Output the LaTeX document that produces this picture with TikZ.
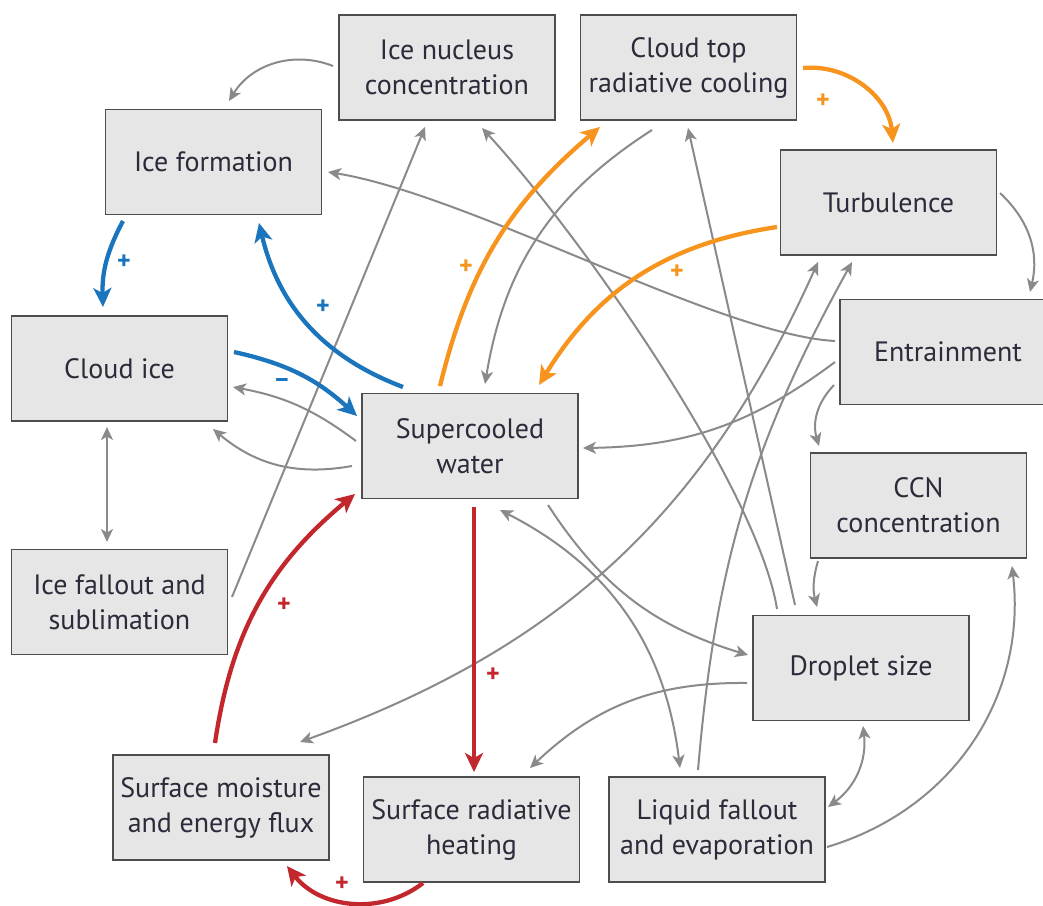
\documentclass[tikz,border=0pt]{standalone}
\usepackage{fontspec}
\setmainfont{PT Sans}
\usetikzlibrary{arrows.meta,calc}
\definecolor{boxfill}{HTML}{E6E6E6}
\definecolor{boxline}{HTML}{4D4D4D}
\definecolor{txt}{HTML}{2B2B3A}
\definecolor{agray}{HTML}{8A8A8C}
\definecolor{cblue}{HTML}{1B75BC}
\definecolor{corange}{HTML}{F7941D}
\definecolor{cred}{HTML}{C1272D}
\begin{document}
\begin{tikzpicture}[x=1pt,y=-1pt,
 box/.style={draw=boxline, line width=1.5pt, fill=boxfill, minimum width=216pt, minimum height=105pt, inner sep=0pt, align=center, text=txt, font=\fontsize{28}{35}\selectfont},
 garr/.style={draw=agray, line width=2pt, -{Stealth[length=13pt,width=12pt,inset=3.5pt]}},
 gboth/.style={draw=agray, line width=2pt, {Stealth[length=13pt,width=12pt,inset=3.5pt]}-{Stealth[length=13pt,width=12pt,inset=3.5pt]}},
 carr/.style={line width=4.3pt, -{Stealth[length=19pt,width=18pt,inset=5pt]}},
 sign/.style={font=\fontsize{26}{26}\selectfont\bfseries, inner sep=0pt},
]
\path[fill=white] (0,0) rectangle (1043,905);
\useasboundingbox (0,0) rectangle (1043,905);

% boxes
\node[box] (icen) at (447,67.5) {Ice nucleus\\concentration};
\node[box] (ctrc) at (688.5,67.5) {Cloud top\\radiative cooling};
\node[box] (icef) at (213.5,162) {Ice formation};
\node[box] (turb) at (888.5,202.5) {Turbulence};
\node[box] (entr) at (948,352) {Entrainment};
\node[box] (cice) at (119.5,368.5) {Cloud ice};
\node[box] (scw) at (470,446) {Supercooled\\water};
\node[box] (ccn) at (918.5,505.5) {CCN\\concentration};
\node[box] (drop) at (861,668) {Droplet size};
\node[box] (ifal) at (119.5,602) {Ice fallout and\\sublimation};
\node[box] (smef) at (221,807.5) {Surface moisture\\and energy flux};
\node[box] (srh) at (471.5,829.5) {Surface radiative\\heating};
\node[box] (lfe) at (717,829.5) {Liquid fallout\\and evaporation};

% gray connectors
\draw[garr] ($(icen.center)+(-114,-1.5)$) to[bend right=40] ($(icef.center)+(15.5,-61)$);
\draw[garr] ($(ifal.center)+(112.5,-5)$) -- ($(icen.center)+(-22,59.5)$);
\draw[gboth] ($(cice.center)+(-12.5,58.5)$) -- ($(ifal.center)+(-12.5,-60)$);
\draw[garr] ($(scw.center)+(-114,-5)$) to[bend right=13] ($(cice.center)+(113.5,18.5)$);
\draw[garr] ($(scw.center)+(-118,20)$) to[bend left=25] ($(cice.center)+(93.5,60.5)$);
\draw[garr] ($(entr.center)+(-113,-11)$) .. controls (720,335) and (470,195) .. ($(icef.center)+(114.5,10)$);
\draw[garr] ($(entr.center)+(-113,10)$) to[bend left=18] ($(scw.center)+(113,2)$);
\draw[garr] ($(entr.center)+(-114,33)$) to[bend right=30] ($(ccn.center)+(-99.5,-59.5)$);
\draw[garr] ($(turb.center)+(111.5,-9.5)$) to[bend left=30] ($(entr.center)+(82,-60)$);
\draw[garr] ($(ccn.center)+(-100.5,55.5)$) to[bend right=15] ($(drop.center)+(-44,-61)$);
\draw[garr] ($(drop.center)+(-84,-59)$) .. controls (758,490) and (585,240) .. ($(icen.center)+(35,60.5)$);
\draw[garr] ($(drop.center)+(-66,-63)$) -- ($(ctrc.center)+(-0.5,60.5)$);
\draw[garr] ($(ctrc.center)+(-36.5,62.5)$) to[bend right=24] ($(scw.center)+(15,-62)$);
\draw[garr] ($(scw.center)+(78,59)$) to[bend right=20] ($(drop.center)+(-113,-13)$);
\draw[gboth] ($(scw.center)+(30,64)$) to[bend left=28] ($(lfe.center)+(-37,-61.5)$);
\draw[garr] ($(drop.center)+(-114,15)$) to[bend right=22] ($(srh.center)+(58.5,-61.5)$);
\draw[garr] ($(lfe.center)+(-19,-59.5)$) to[bend left=12] ($(turb.center)+(-36.5,59.5)$);
\draw[gboth] ($(smef.center)+(79,-65.5)$) to[bend right=23] ($(turb.center)+(-70.5,59.5)$);
\draw[gboth] ($(drop.center)+(2,58)$) to[bend left=30] ($(lfe.center)+(111,-22.5)$);
\draw[garr] ($(lfe.center)+(110,17.5)$) to[bend right=40] ($(ccn.center)+(93.5,60.5)$);

% blue
\draw[carr, cblue] ($(icef.center)+(-90.5,59)$) to[bend right=15] ($(cice.center)+(-16.5,-61.5)$);
\draw[carr, cblue] ($(scw.center)+(-67,-59)$) to[bend left=28] ($(icef.center)+(45.5,61)$);
\draw[carr, cblue] ($(cice.center)+(114.5,-16.5)$) to[bend left=15] ($(scw.center)+(-113,-30)$);
% orange
\draw[carr, corange] ($(ctrc.center)+(114.5,0.5)$) to[bend left=45] ($(turb.center)+(4.5,-59.5)$);
\draw[carr, corange] ($(scw.center)+(-30,-60)$) to[bend left=18] ($(ctrc.center)+(-88.5,59.5)$);
\draw[carr, corange] ($(turb.center)+(-111.5,24.5)$) to[bend right=25] ($(scw.center)+(69,-61)$);
% red
\draw[carr, cred] ($(scw.center)+(4,61)$) -- ($(srh.center)+(2.5,-57.5)$);
\draw[carr, cred] ($(smef.center)+(-6,-64.5)$) to[bend left=21] ($(scw.center)+(-115,48)$);
\draw[carr, cred] ($(srh.center)+(-48.5,53.5)$) to[bend left=45] ($(smef.center)+(66,58.5)$);

% signs
\node[sign, text=cblue] (s1) at (124,262) {+};
\node[sign, text=cblue] (s2) at (323,307) {+};
\node[sign, text=cblue] (s3) at (282,383) {–};
\node[sign, text=corange] (s4) at (823,101) {+};
\node[sign, text=corange] (s5) at (466,267) {+};
\node[sign, text=corange] (s6) at (677,272) {+};
\node[sign, text=cred] (s7) at (493,675) {+};
\node[sign, text=cred] (s8) at (284,605) {+};
\node[sign, text=cred] (s9) at (342,884) {+};
\end{tikzpicture}
\end{document}
